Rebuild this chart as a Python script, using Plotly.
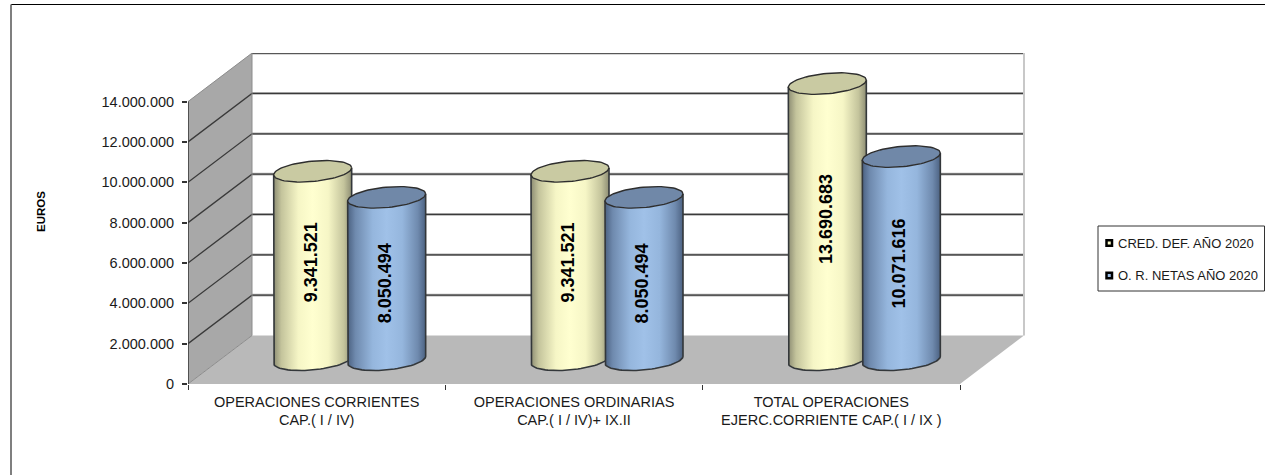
import numpy as np
import plotly.graph_objects as go

# Chart data
categories = ["OPERACIONES CORRIENTES<br>CAP.( I / IV)",
              "OPERACIONES ORDINARIAS<br>CAP.( I / IV)+ IX.II",
              "TOTAL OPERACIONES<br>EJERC.CORRIENTE CAP.( I / IX )"]
cred_def = [9341521, 9341521, 13690683]
obl_netas = [8050494, 8050494, 10071616]
series_names = ["CRED. DEF. AÑO 2020", "O. R. NETAS AÑO 2020"]
y_ticks = [0, 2000000, 4000000, 6000000, 8000000, 10000000, 12000000, 14000000]
y_tick_labels = ["0", "2.000.000", "4.000.000", "6.000.000", "8.000.000",
                 "10.000.000", "12.000.000", "14.000.000"]

# Canvas and plot area in pixels
W, H = 1265, 475
L, R, T, B = 188, 1027, 53, 384
CAT_PX = (960 - 188) / 3
PX_PER_EURO = (384 - 101.6) / 14000000
X_MAX = (R - L) / CAT_PX
Y_MAX = (B - T) / PX_PER_EURO

# Oblique projection of the depth axis, in axis units
DEPTH_X = 64 / CAT_PX
DEPTH_Y = 48.5 / PX_PER_EURO


def px(x, value, depth=0.0):
    return x + depth * DEPTH_X, value + depth * DEPTH_Y


def paper_x(pixel):
    return (pixel - L) / (R - L)


def paper_y(pixel):
    return (B - pixel) / (B - T)


def line_trace(xs, ys, color, width):
    return go.Scatter(x=xs, y=ys, mode="lines", line=dict(color=color, width=width),
                      hoverinfo="skip", showlegend=False)


def poly_trace(xs, ys, fill):
    return go.Scatter(x=xs, y=ys, mode="lines", fill="toself", fillcolor=fill,
                      line=dict(width=0), hoverinfo="skip", showlegend=False)


fig = go.Figure()

# Left wall, floor and back wall
corners = [px(0, 0), px(0, 14000000), px(0, 14000000, 1), px(0, 0, 1)]
fig.add_trace(poly_trace([c[0] for c in corners], [c[1] for c in corners], "#A8A8A8"))
corners = [px(0, 0), px(3, 0), px(3, 0, 1), px(0, 0, 1)]
fig.add_trace(poly_trace([c[0] for c in corners], [c[1] for c in corners], "#B9B9B9"))

# Gridlines run along the left wall and across the back wall
for v in y_ticks:
    x0, y0 = px(0, v)
    x1, y1 = px(0, v, 1)
    x2, y2 = px(3, v, 1)
    if v == 0:
        fig.add_trace(line_trace([x0, x1], [y0, y1], "#8C8C8C", 1))
        continue
    fig.add_trace(line_trace([x1, x2], [y1, y2], "#B0B0B0", 2.6))
    if v == y_ticks[-1]:
        fig.add_trace(line_trace([x0, x1], [y0, y1], "#8C8C8C", 1))
        fig.add_trace(line_trace([x1, x2], [y1, y2], "#3A3A3A", 1.3))
    else:
        fig.add_trace(line_trace([x0, x1, x2], [y0, y1, y2], "#3A3A3A", 1.3))

# Wall edges and the front axis lines
x1, y1 = px(3, 0, 1)
x2, y2 = px(3, 14000000, 1)
fig.add_trace(line_trace([x1, x2], [y1, y2], "#C8C8C8", 2))
x1, y1 = px(0, 0, 1)
x2, y2 = px(0, 14000000, 1)
fig.add_trace(line_trace([x1, x2], [y1, y2], "#8C8C8C", 1))
fig.add_trace(line_trace([0, 0], [0, 14000000], "#3C3C3C", 1.6))
fig.add_trace(line_trace([0, 3], [-60000, -60000], "#6E6E6E", 1.4))

# Cylinders
RADIUS = 39 / CAT_PX
ELL_B = 10.2 / PX_PER_EURO
ELL_TILT = 3.5 / PX_PER_EURO
OFFSET = 37 / CAT_PX
CENTER_SHIFT = 1 / CAT_PX
styles = [
    dict(grad=[[0, "#8E8E74"], [0.1, "#C4C49C"], [0.32, "#F6F6C6"], [0.5, "#FFFFD0"],
               [0.7, "#F6F6C6"], [0.9, "#C4C49C"], [1, "#8E8E74"]],
         cap="#C9CAA2", label_shift=3),
    dict(grad=[[0, "#4C6282"], [0.1, "#6F8AAE"], [0.32, "#95B6DD"], [0.5, "#A0C1E8"],
               [0.7, "#95B6DD"], [0.9, "#6F8AAE"], [1, "#4C6282"]],
         cap="#7088A8", label_shift=-5),
]
t_front = np.linspace(0, np.pi, 40)
t_full = np.linspace(0, 2 * np.pi, 80)


def ellipse(cx, value, t):
    # Sheared ellipse: the right end sits higher than the left end
    return cx + RADIUS * np.cos(t), value - ELL_B * np.sin(t) + ELL_TILT * np.cos(t)


for i in range(len(categories)):
    for s, (values, off) in enumerate(((cred_def, -OFFSET), (obl_netas, OFFSET))):
        cx, base = px(i + 0.5 + off + CENTER_SHIFT, 0, 0.5)
        top = base + values[i]
        bx, by = ellipse(cx, base, t_front)
        tx, ty = ellipse(cx, top, t_front)
        body_x = np.concatenate([bx, tx[::-1], bx[:1]])
        body_y = np.concatenate([by, ty[::-1], by[:1]])
        fig.add_trace(go.Scatter(
            x=body_x, y=body_y, mode="lines", fill="toself",
            fillgradient=dict(type="horizontal", colorscale=styles[s]["grad"]),
            line=dict(width=0), hoverinfo="skip", showlegend=False))
        outline_x = np.concatenate([tx[-1:], bx[::-1], tx[:1]])
        outline_y = np.concatenate([ty[-1:], by[::-1], ty[:1]])
        fig.add_trace(line_trace(outline_x, outline_y, "#33373A", 1.6))
        ex, ey = ellipse(cx, top, t_full)
        fig.add_trace(go.Scatter(
            x=ex, y=ey, mode="lines", fill="toself", fillcolor=styles[s]["cap"],
            line=dict(color="#2E2E2E", width=1.4), hoverinfo="skip", showlegend=False))
        fig.add_annotation(
            x=cx, y=base + values[i] / 2, xref="x", yref="y", showarrow=False, textangle=-90,
            xshift=-2, yshift=styles[s]["label_shift"],
            text=f"{values[i]:,}".replace(",", "."),
            font=dict(family="Liberation Sans", size=18, color="black", weight="bold"))

# Outer chart frame: top and left edges only
fig.add_shape(type="line", xref="paper", yref="paper",
              x0=paper_x(11), x1=paper_x(W), y0=paper_y(4.5), y1=paper_y(4.5),
              line=dict(color="black", width=1))
fig.add_shape(type="line", xref="paper", yref="paper",
              x0=paper_x(11), x1=paper_x(11), y0=paper_y(4.5), y1=paper_y(H),
              line=dict(color="#7F7F7F", width=2))

# Legend panel with one swatch and label per series
fig.add_shape(type="rect", xref="paper", yref="paper",
              x0=paper_x(1098), x1=paper_x(1264.5), y0=paper_y(226), y1=paper_y(291),
              fillcolor="white", line=dict(color="#333333", width=1))
for name, fill, row_y in zip(series_names, ("#FFFFCC", "#9CBDE5"), (243, 275.5)):
    fig.add_shape(type="rect", xref="paper", yref="paper",
                  x0=paper_x(1106.5), x1=paper_x(1112), y0=paper_y(row_y - 2.75), y1=paper_y(row_y + 2.75),
                  fillcolor=fill, line=dict(color="black", width=2.5))
    fig.add_annotation(x=paper_x(1116), y=paper_y(row_y), xref="paper", yref="paper",
                       xanchor="left", yanchor="middle", text=name, showarrow=False,
                       font=dict(family="Liberation Sans", size=13, color="#1A1A1A"))

# Value axis title
fig.add_annotation(x=paper_x(41), y=paper_y(212), xref="paper", yref="paper",
                   xanchor="center", yanchor="middle",
                   text="EUROS", showarrow=False, textangle=-90,
                   font=dict(family="Liberation Sans", size=11.5, color="black", weight="bold"))

fig.update_layout(
    width=W, height=H, showlegend=False,
    margin=dict(l=L, r=W - R, t=T, b=H - B, autoexpand=False),
    paper_bgcolor="white", plot_bgcolor="white",
    font=dict(family="Liberation Sans", color="black"),
    xaxis=dict(range=[0, X_MAX], showgrid=False, zeroline=False, showline=False,
               tickmode="array", tickvals=[0.5, 1.5, 2.5], ticktext=categories,
               ticks="", ticklabelstandoff=7, tickfont=dict(size=14.5, color="#1A1A1A"),
               minor=dict(tickmode="array", tickvals=[0, 1, 2, 3], ticks="outside",
                          ticklen=5, tickcolor="#333333", tickwidth=1)),
    yaxis=dict(range=[0, Y_MAX], showgrid=False, zeroline=False, showline=False,
               tickmode="array", tickvals=y_ticks, ticktext=y_tick_labels,
               ticks="outside", ticklen=5, tickcolor="#333333", tickwidth=1.5,
               ticklabelstandoff=5, tickfont=dict(size=14.5, color="#1A1A1A")),
)

fig.write_html("out.html")
